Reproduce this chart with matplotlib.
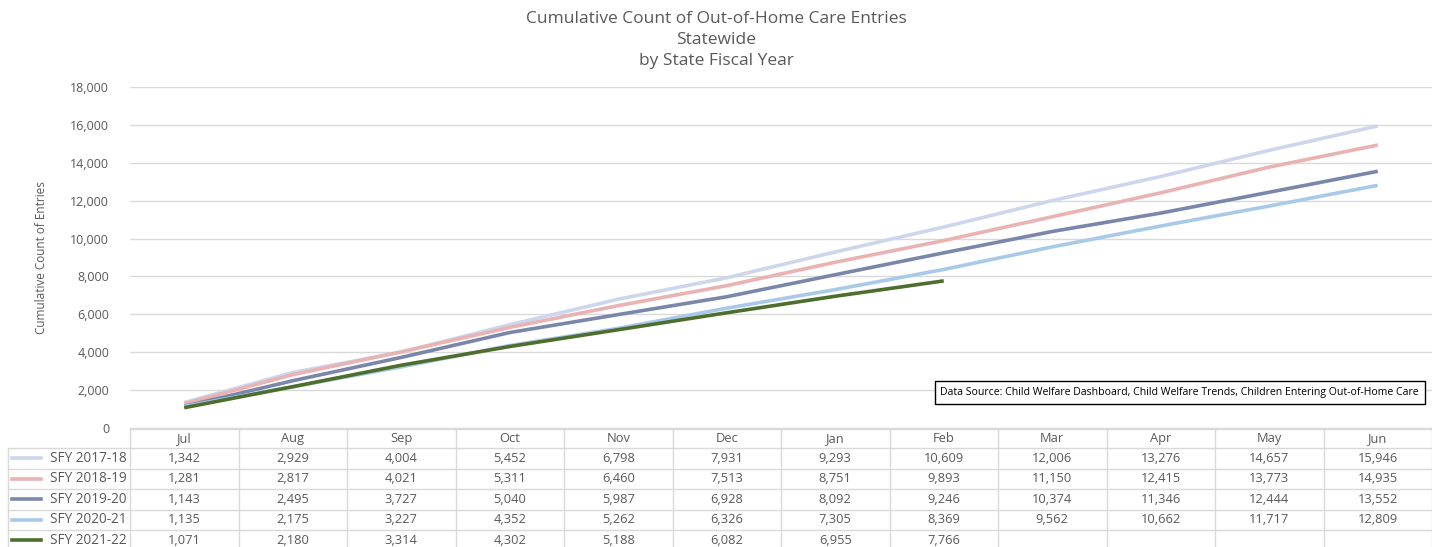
import matplotlib.pyplot as plt
import numpy as np

plt.rcParams['font.family'] = ['Open Sans', 'DejaVu Sans']

months = ["Jul", "Aug", "Sep", "Oct", "Nov", "Dec", "Jan", "Feb", "Mar", "Apr", "May", "Jun"]
series_names = ["SFY 2017-18", "SFY 2018-19", "SFY 2019-20", "SFY 2020-21", "SFY 2021-22"]
sfy_2017_18 = [1342, 2929, 4004, 5452, 6798, 7931, 9293, 10609, 12006, 13276, 14657, 15946]
sfy_2018_19 = [1281, 2817, 4021, 5311, 6460, 7513, 8751, 9893, 11150, 12415, 13773, 14935]
sfy_2019_20 = [1143, 2495, 3727, 5040, 5987, 6928, 8092, 9246, 10374, 11346, 12444, 13552]
sfy_2020_21 = [1135, 2175, 3227, 4352, 5262, 6326, 7305, 8369, 9562, 10662, 11717, 12809]
sfy_2021_22 = [1071, 2180, 3314, 4302, 5188, 6082, 6955, 7766]
series = [sfy_2017_18, sfy_2018_19, sfy_2019_20, sfy_2020_21, sfy_2021_22]
colors = ["#cdd6ec", "#e9b2b3", "#7a86aa", "#a9c9e9", "#4d6e2c"]

W, H = 1432, 547
fig = plt.figure(figsize=(W / 100, H / 100), dpi=100)
txt = "#595959"
grid = "#d9d9d9"

# main chart
ax = fig.add_axes([130 / W, 1 - 428 / H, 1302 / W, 341 / H])
x = np.arange(len(months))
for vals, c in zip(series, colors):
    ax.plot(x[:len(vals)], vals, color=c, lw=2.6, solid_capstyle="butt")
ax.set_xlim(-0.5, 11.5)
ax.set_ylim(0, 18000)
ax.set_yticks(np.arange(0, 18001, 2000))
ax.set_yticklabels([f"{v:,}" for v in range(0, 18001, 2000)], color=txt, fontsize=9)
ax.tick_params(axis="y", length=0, pad=15)
ax.set_xticks([])
ax.grid(axis="y", color=grid, lw=1)
for s in ["top", "right", "left"]:
    ax.spines[s].set_visible(False)
ax.spines["bottom"].set_color(grid)
ax.set_ylabel("Cumulative Count of Entries", color=txt, fontsize=8.5, labelpad=16)
ax.text(0.99, 0.105, "Data Source: Child Welfare Dashboard, Child Welfare Trends, Children Entering Out-of-Home Care",
        transform=ax.transAxes, ha="right", va="center", fontsize=7.6, color="black",
        bbox=dict(boxstyle="square,pad=0.55", fc="white", ec="black", lw=1))

# title, one line each
for k, line in enumerate(["Cumulative Count of Out-of-Home Care Entries", "Statewide", "by State Fiscal Year"]):
    fig.text(0.5, 1 - (19 + 21 * k) / H, line, ha="center", va="center", fontsize=12.5, color=txt)

# data table underneath
tax = fig.add_axes([130 / W, 0, 1302 / W, 118 / H])
tax.set_xlim(-0.5, 11.5)
tax.set_ylim(118, 0)
tax.axis("off")
hdr_h, row_h = 19, 20.5
lab_left = -0.5 - 122 / 108.5
kw = dict(color=grid, lw=1, clip_on=False)
tax.plot([-0.5, 11.5], [0, 0], **kw)
for k in range(len(months) + 1):
    tax.plot([k - 0.5, k - 0.5], [0, 130], **kw)
tax.plot([lab_left, lab_left], [hdr_h, 130], **kw)
for i in range(len(series) + 1):
    yy = hdr_h + row_h * i
    tax.plot([lab_left, 11.5], [yy, yy], **kw)
for j, m in enumerate(months):
    tax.text(j, hdr_h / 2, m, ha="center", va="center", fontsize=9.3, color=txt)
for i, (name, vals, c) in enumerate(zip(series_names, series, colors)):
    yc = hdr_h + row_h * (i + 0.5)
    tax.plot([lab_left + 0.04, lab_left + 0.3], [yc, yc], color=c, lw=2.6, clip_on=False)
    tax.text(-0.53, yc, name, ha="right", va="center", fontsize=9.8, color=txt, clip_on=False)
    for j, v in enumerate(vals):
        tax.text(j, yc, f"{v:,}", ha="center", va="center", fontsize=9.3, color=txt)

fig.savefig("out.png", dpi=100)
